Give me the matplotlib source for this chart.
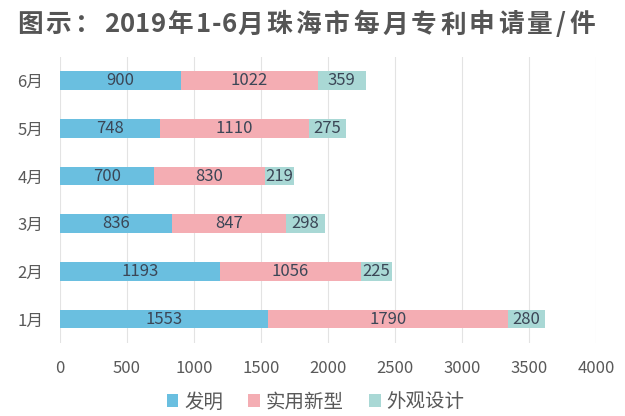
import matplotlib
matplotlib.use("Agg")
import matplotlib.pyplot as plt
import numpy as np

plt.rcParams['font.family'] = ['Noto Sans CJK SC', 'DejaVu Sans']

months = ['1月', '2月', '3月', '4月', '5月', '6月']
invention = [1553, 1193, 836, 700, 748, 900]
utility = [1790, 1056, 847, 830, 1110, 1022]
design = [280, 225, 298, 219, 275, 359]
series_names = ['发明', '实用新型', '外观设计']
colors = ['#6ABFE0', '#F4ADB3', '#A9D8D5']
xticks = [0, 500, 1000, 1500, 2000, 2500, 3000, 3500, 4000]
title = '图示：2019年1-6月珠海市每月专利申请量/件'

fig = plt.figure(figsize=(6.25, 4.16), dpi=100)
ax = fig.add_axes([0.096, 0.1755, 0.8576, 0.688])

y = np.arange(len(months))
left = np.zeros(len(months))
for vals, name, c in zip([invention, utility, design], series_names, colors):
    b = ax.barh(y, vals, left=left, height=0.39, color=c, label=name, zorder=2)
    ax.bar_label(b, labels=[str(v) for v in vals], label_type='center',
                 fontsize=12, color='#3B4656')
    left = left + np.array(vals)

ax.set_xlim(0, 4000)
ax.set_ylim(-0.5, 5.5)
ax.set_xticks(xticks)
ax.set_xticklabels([str(t) for t in xticks])
ax.set_yticks(y)
ax.set_yticklabels(months)
ax.grid(axis='x', color='#E3E3E3', linewidth=0.8, zorder=0)
for s in ax.spines.values():
    s.set_visible(False)
ax.tick_params(axis='both', length=0, labelsize=12, labelcolor='#595959')
ax.tick_params(axis='x', pad=12)
ax.tick_params(axis='y', pad=12)

# title with letter spacing (wider after CJK glyphs)
fig.canvas.draw()
renderer = fig.canvas.get_renderer()
x_px = 17.0
y_fig = 0.94
W = fig.bbox.width
for ch in title:
    t = fig.text(x_px / W, y_fig, ch, fontsize=18.5, fontweight='bold',
                 color='#555555', va='center', ha='left')
    w = t.get_window_extent(renderer).width
    x_px += w + (0.6 if ch.isdigit() or ch == '-' else 3.2)

fig.legend(loc='center', bbox_to_anchor=(0.505, 0.034), ncol=3, frameon=False,
           fontsize=14, handlelength=0.6, handleheight=0.6, handletextpad=0.3,
           columnspacing=1.3, labelcolor='#595959')

fig.savefig('out.png', dpi=100)
